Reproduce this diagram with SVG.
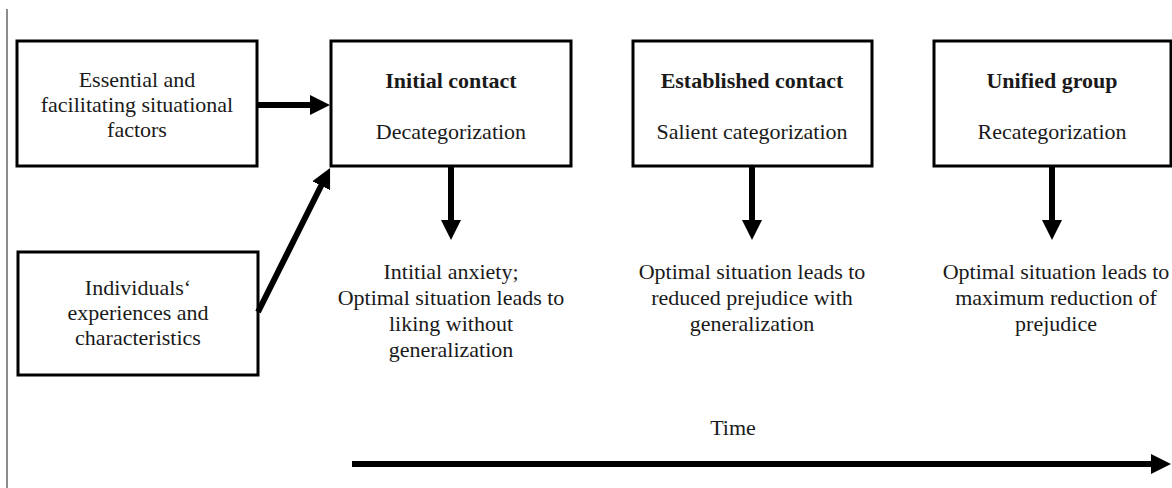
<svg xmlns="http://www.w3.org/2000/svg" width="1172" height="488" viewBox="0 0 1172 488">
<defs>
<marker id="ah" viewBox="0 0 20 20" markerWidth="20" markerHeight="20" refX="2" refY="10" orient="auto" markerUnits="userSpaceOnUse">
<path d="M0,0 L20,10 L0,20 z" fill="#000"/>
</marker>
<style>
.box{fill:#fff;stroke:#000;stroke-width:3}
.t{font-family:"Liberation Serif","Times New Roman",serif;font-size:22px;fill:#1a1a1a;text-anchor:middle}
.b{font-weight:bold}
.c{stroke:#000;stroke-width:6;fill:none;marker-end:url(#ah)}
</style>
</defs>
<rect width="1172" height="488" fill="#fff"/>
<line x1="7" y1="9" x2="7" y2="488" stroke="#666" stroke-width="1.5"/>
<g id="n-factors">
<rect class="box" x="17" y="41" width="240" height="125"/>
<text class="t" x="137" y="87">Essential and</text>
<text class="t" x="137" y="112">facilitating  situational</text>
<text class="t" x="137" y="137">factors</text>
</g>
<g id="n-individuals">
<rect class="box" x="18" y="252" width="240" height="123"/>
<text class="t" x="138" y="295">Individuals‘</text>
<text class="t" x="138" y="320">experiences and</text>
<text class="t" x="138" y="345">characteristics</text>
</g>
<g id="n-initial">
<rect class="box" x="331" y="41" width="240" height="125"/>
<text class="t b" x="451" y="88">Initial contact</text>
<text class="t" x="451" y="139">Decategorization</text>
</g>
<g id="n-established">
<rect class="box" x="633" y="41" width="239" height="125"/>
<text class="t b" x="752" y="88">Established contact</text>
<text class="t" x="752" y="139">Salient categorization</text>
</g>
<g id="n-unified">
<rect class="box" x="934" y="41" width="237" height="125"/>
<text class="t b" x="1052" y="88">Unified group</text>
<text class="t" x="1052" y="139">Recategorization</text>
</g>
<g id="n-out1">
<text class="t" x="451" y="279">Intitial anxiety;</text>
<text class="t" x="451" y="305">Optimal situation leads to</text>
<text class="t" x="451" y="331">liking  without</text>
<text class="t" x="451" y="357">generalization</text>
</g>
<g id="n-out2">
<text class="t" x="752" y="279">Optimal situation leads to</text>
<text class="t" x="752" y="305">reduced prejudice with</text>
<text class="t" x="752" y="331">generalization</text>
</g>
<g id="n-out3">
<text class="t" x="1056" y="279">Optimal situation leads to</text>
<text class="t" x="1056" y="305">maximum reduction of</text>
<text class="t" x="1056" y="331">prejudice</text>
</g>
<g id="n-time">
<text class="t" x="733" y="435">Time</text>
</g>
<g id="connectors">
<line class="c" x1="258" y1="105" x2="312" y2="105"/>
<line class="c" x1="258" y1="312" x2="322" y2="184"/>
<line class="c" x1="451" y1="167" x2="451" y2="222"/>
<line class="c" x1="752" y1="167" x2="752" y2="222"/>
<line class="c" x1="1052" y1="167" x2="1052" y2="222"/>
<line class="c" x1="352" y1="464" x2="1153" y2="464"/>
</g>
</svg>
